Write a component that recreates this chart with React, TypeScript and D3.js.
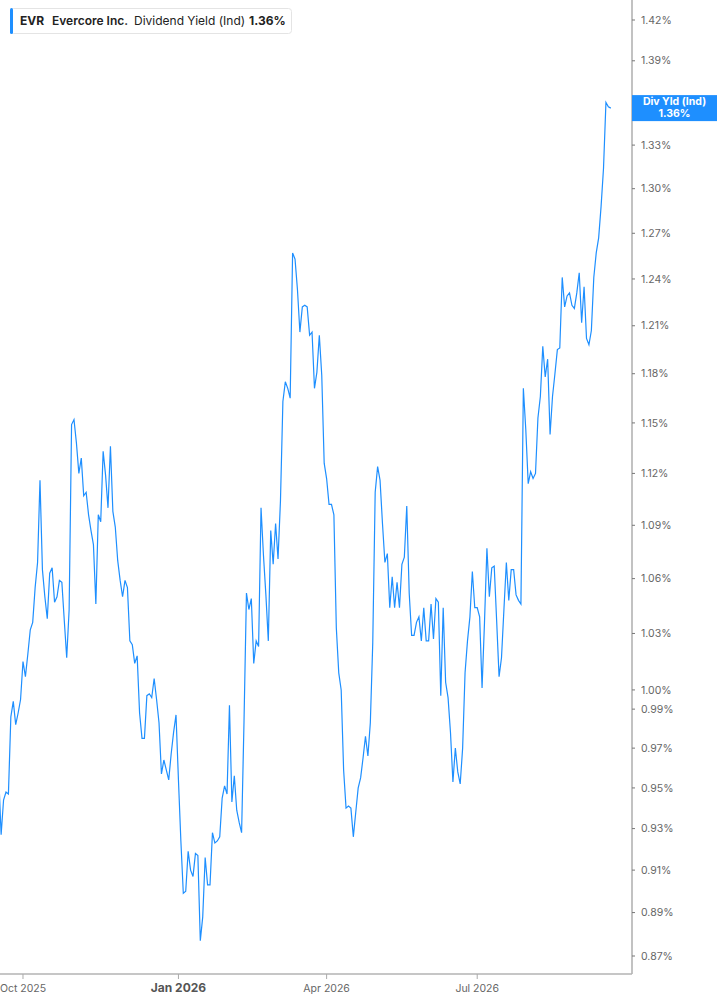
import React from 'react';
import * as d3 from 'd3';

// Dividend yield (%) per trading day, split by quarter
const sepValues = [0.956, 0.927, 0.944, 0.948, 0.947, 0.986, 0.994, 0.982, 0.988, 0.995];

const q4Values = [
  1.015, 1.007, 1.019, 1.032, 1.036, 1.055, 1.069, 1.116, 1.065, 1.05,
  1.038, 1.063, 1.066, 1.047, 1.05, 1.059, 1.058, 1.037, 1.017, 1.043,
  1.149, 1.152, 1.138, 1.12, 1.129, 1.107, 1.109, 1.096, 1.087, 1.079,
  1.046, 1.096, 1.092, 1.133, 1.119, 1.1, 1.136, 1.098, 1.089, 1.07,
  1.059, 1.05, 1.059, 1.055, 1.026, 1.024, 1.014, 1.018, 0.988, 0.975,
  0.975, 0.997, 0.998, 0.996, 1.006, 0.995, 0.983, 0.957, 0.964, 0.959,
  0.954, 0.967, 0.978, 0.987,
];

const q1Values = [
  0.954, 0.924, 0.899, 0.9, 0.919, 0.91, 0.907, 0.918, 0.917, 0.877,
  0.888, 0.916, 0.903, 0.903, 0.928, 0.923, 0.924, 0.926, 0.945, 0.951,
  0.947, 0.992, 0.943, 0.956, 0.939, 0.933, 0.928, 0.984, 1.052, 1.043,
  1.049, 1.014, 1.026, 1.023, 1.1, 1.073, 1.051, 1.026, 1.087, 1.068,
  1.091, 1.071, 1.104, 1.163, 1.175, 1.171, 1.165, 1.257, 1.253, 1.233,
  1.206, 1.222, 1.223, 1.222, 1.204, 1.206, 1.171, 1.181, 1.204, 1.179,
  1.126,
];

const q2Values = [
  1.117, 1.102, 1.102, 1.096, 1.033, 1.009, 1.0, 0.959, 0.94, 0.941,
  0.94, 0.926, 0.938, 0.95, 0.955, 0.965, 0.976, 0.966, 0.983, 1.025,
  1.109, 1.124, 1.116, 1.091, 1.069, 1.074, 1.044, 1.061, 1.044, 1.058,
  1.044, 1.068, 1.072, 1.101, 1.052, 1.029, 1.029, 1.036, 1.039, 1.026,
  1.044, 1.026, 1.026, 1.046, 1.027, 1.049, 1.047, 0.997, 1.044, 1.004,
  0.996, 0.978, 0.953, 0.97, 0.958, 0.952, 0.97, 1.009, 1.026, 1.039,
  1.064, 1.044,
];

const q3Values = [
  1.044, 1.039, 1.001, 1.036, 1.077, 1.05, 1.066, 1.067, 1.037, 1.007,
  1.017, 1.043, 1.069, 1.048, 1.065, 1.065, 1.051, 1.048, 1.046, 1.171,
  1.146, 1.114, 1.121, 1.117, 1.12, 1.153, 1.166, 1.197, 1.178, 1.189,
  1.143, 1.166, 1.18, 1.195, 1.196, 1.241, 1.222, 1.229, 1.231, 1.223,
  1.221, 1.231, 1.244, 1.212, 1.235, 1.202, 1.198, 1.207, 1.241, 1.257,
  1.267, 1.288, 1.314, 1.36, 1.357, 1.356,
];

const yieldSeries = [...sepValues, ...q4Values, ...q1Values, ...q2Values, ...q3Values];

const yTicks = [0.87, 0.89, 0.91, 0.93, 0.95, 0.97, 0.99, 1.0, 1.03, 1.06, 1.09, 1.12, 1.15, 1.18, 1.21, 1.24, 1.27, 1.3, 1.33, 1.39, 1.42];

// x ticks: label + trading-day index of first session of the quarter
const xTickLabels = ['Oct 2025', 'Jan 2026', 'Apr 2026', 'Jul 2026'];
const xTickIndex = [10, 74, 135, 197];
const xTickYearStart = [false, true, false, false];

const BLUE = '#1e8fff';
const FONT = 'Inter, "Noto Sans", sans-serif';

export default function App() {
  const width = 717;
  const height = 1005;
  const plotRight = 632;
  const plotBottom = 974;

  const x = d3.scaleLinear().domain([0, yieldSeries.length - 1]).range([-1.3, 610.8]);
  const y = d3.scaleLog().domain([0.87, 1.42]).range([956, 20]);

  const line = d3.line<number>()
    .x((_, i) => x(i))
    .y(d => y(d));

  const last = yieldSeries[yieldSeries.length - 1];
  const lastLabel = last.toFixed(2) + '%';
  const lastY = y(last);

  return (
    <svg
      width={width}
      height={height}
      style={{ position: 'absolute', left: 0, top: 0, background: '#fff' }}
      fontFamily={FONT}
    >
      <defs>
        <clipPath id="plot">
          <rect x={0} y={0} width={plotRight} height={plotBottom} />
        </clipPath>
      </defs>

      {/* series */}
      <path d={line(yieldSeries) || ''} fill="none" stroke={BLUE} strokeWidth={1.2} clipPath="url(#plot)" />

      {/* axes */}
      <line x1={plotRight} x2={plotRight} y1={0} y2={plotBottom} stroke="#b3b3b3" strokeWidth={1.6} />
      <line x1={0} x2={plotRight} y1={plotBottom} y2={plotBottom} stroke="#b3b3b3" strokeWidth={1.6} />

      {yTicks.map(t => (
        <g key={t} transform={`translate(${plotRight},${y(t)})`}>
          <line x1={0} x2={3} stroke="#777" strokeWidth={1} />
          <text x={9} dy="0.35em" fontSize={10.5} fill="#666">{t.toFixed(2)}%</text>
        </g>
      ))}

      {xTickLabels.map((lab, i) => (
        <g key={lab} transform={`translate(${x(xTickIndex[i])},${plotBottom})`}>
          <line y1={0} y2={5} stroke="#aaa" strokeWidth={1} />
          <text
            y={18}
            textAnchor="middle"
            fontSize={xTickYearStart[i] ? 12 : 10.5}
            fontWeight={xTickYearStart[i] ? 700 : 400}
            fill={xTickYearStart[i] ? '#555' : '#666'}
          >
            {lab}
          </text>
        </g>
      ))}

      {/* last value tag */}
      <g transform={`translate(${plotRight},${lastY})`}>
        <rect x={0} y={-13} width={width - plotRight} height={26} fill={BLUE} />
        <text x={42.5} y={-3} textAnchor="middle" fontSize={10.5} fontWeight={700} fill="#fff">Div Yld (Ind)</text>
        <text x={42.5} y={9} textAnchor="middle" fontSize={10.5} fontWeight={700} fill="#fff">{lastLabel}</text>
      </g>

      {/* legend */}
      <g>
        <rect x={10.5} y={8.5} width={281} height={25} rx={3} fill="#fff" stroke="#e4e4e4" />
        <rect x={10} y={8} width={3} height={26} rx={1.5} fill={BLUE} />
        <text x={20} y={25} fontSize={12} fontWeight={700} fill="#222">EVR</text>
        <text x={52} y={25} fontSize={12} fontWeight={600} fill="#222">Evercore Inc.</text>
        <text x={134} y={25} fontSize={12} fontWeight={400} fill="#222">Dividend Yield (Ind)</text>
        <text x={249} y={25} fontSize={12} fontWeight={700} fill="#222">{lastLabel}</text>
      </g>
    </svg>
  );
}
